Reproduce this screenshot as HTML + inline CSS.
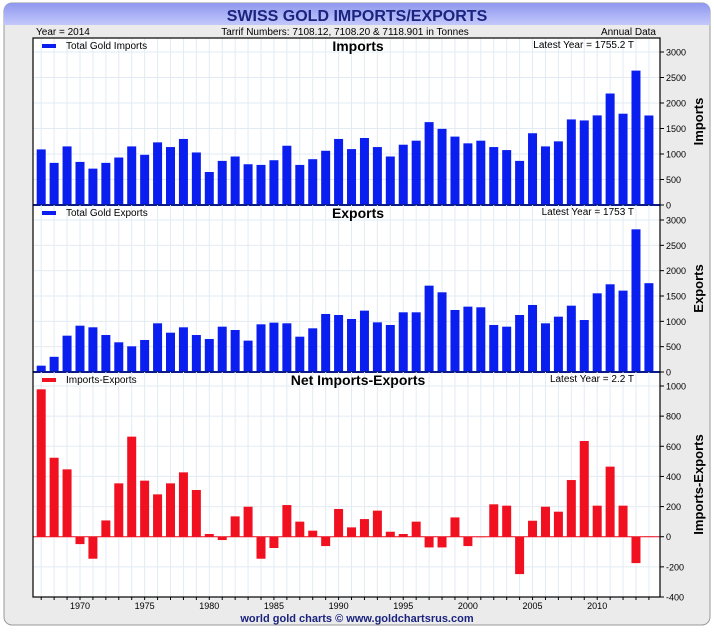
<!DOCTYPE html>
<html><head><meta charset="utf-8"><style>
html,body{margin:0;padding:0;background:#fff;}
svg{display:block;font-family:"Liberation Sans",sans-serif;}
</style></head><body>
<svg id="c" width="714" height="632" viewBox="0 0 714 632" xmlns="http://www.w3.org/2000/svg">
<defs>
<linearGradient id="tg" x1="0" y1="0" x2="0" y2="1"><stop offset="0" stop-color="#8f98ee"/><stop offset="1" stop-color="#c3c8fb"/></linearGradient>
</defs>
<rect x="4" y="3" width="706" height="622" rx="8" fill="#ebebeb" stroke="#9a9a9a"/>
<path d="M4 25 V11 Q4 3 12 3 H702 Q710 3 710 11 V25 Z" fill="url(#tg)"/>
<text x="357" y="21" text-anchor="middle" font-size="16" font-weight="bold" fill="#1a237e">SWISS GOLD IMPORTS/EXPORTS</text>
<text x="36" y="35" font-size="10" fill="#000">Year = 2014</text>
<text x="345" y="35" font-size="10" text-anchor="middle" fill="#000">Tarrif Numbers: 7108.12, 7108.20 &amp; 7118.901 in Tonnes</text>
<text x="656" y="35" font-size="10" text-anchor="end" fill="#000">Annual Data</text>
<rect x="33" y="38" width="627" height="559" fill="#fff"/>
<g id="g"></g>
<rect x="33" y="38" width="627" height="559" fill="none" stroke="#000" stroke-width="1.2"/>
<text x="357" y="622" text-anchor="middle" font-size="11" font-weight="bold" fill="#1a237e">world gold charts © www.goldchartsrus.com</text>
</svg>
<script>
const years=[1967,1968,1969,1970,1971,1972,1973,1974,1975,1976,1977,1978,1979,1980,1981,1982,1983,1984,1985,1986,1987,1988,1989,1990,1991,1992,1993,1994,1995,1996,1997,1998,1999,2000,2001,2002,2003,2004,2005,2006,2007,2008,2009,2010,2011,2012,2013,2014];
const imports=[1090,826,1149,845,713,826,931,1149,984,1228,1136,1295,1030,647,865,951,799,786,878,1162,786,898,1063,1295,1096,1314,1136,951,1182,1261,1625,1493,1341,1209,1261,1136,1077,865,1407,1149,1248,1678,1658,1757,2186,1790,2635,1755.2];
const exportsV=[125,300,717,914,882,730,586,507,632,961,776,882,730,651,895,829,619,941,974,961,697,862,1145,1125,1046,1211,980,928,1178,1178,1704,1573,1224,1290,1277,928,895,1125,1323,961,1092,1309,1026,1553,1731,1606,2816,1753];
const net=[978,524,447,-49,-146,108,354,664,372,281,354,427,310,18,-22,135,199,-146,-75,210,100,40,-62,184,62,117,173,33,18,100,-71,-71,128,-62,0,215,206,-248,106,199,166,376,635,206,465,206,-175,2.2];
const impTicks=[0,500,1000,1500,2000,2500,3000];
const expTicks=[0,500,1000,1500,2000,2500,3000];
const netTicks=[-400,-200,0,200,400,600,800,1000];
const xTicks=[1970,1975,1980,1985,1990,1995,2000,2005,2010];

const NS="http://www.w3.org/2000/svg";
const G=document.getElementById('g');
function mk(t,a,p){const e=document.createElementNS(NS,t);for(const k in a)e.setAttribute(k,a[k]);(p||G).appendChild(e);return e;}
const L=33,R=660;
const x=yr=>41.2+(yr-1967)*12.93;
const panels=[
 {name:'imports',data:imports,ticks:impTicks,top:38,bot:205,vmin:0,vmax:3000,y0v:0,y1:52,color:'#0a1ef0',legend:'Total Gold Imports',title:'Imports',latest:'Latest Year = 1755.2 T',axis:'Imports'},
 {name:'exports',data:exportsV,ticks:expTicks,top:205,bot:372,vmin:0,vmax:3000,y1:220,color:'#0a1ef0',legend:'Total Gold Exports',title:'Exports',latest:'Latest Year = 1753 T',axis:'Exports'},
 {name:'net',data:net,ticks:netTicks,top:372,bot:597,vmin:-400,vmax:1000,y1:386,color:'#f01020',legend:'Imports-Exports',title:'Net Imports-Exports',latest:'Latest Year = 2.2 T',axis:'Imports-Exports'}
];
panels.forEach(p=>{
  const yv=v=>p.bot+(v-p.vmin)*(p.y1-p.bot)/(p.vmax-p.vmin);
  // grid
  years.forEach(yr=>{const gl=mk('line',{x1:x(yr),x2:x(yr),y1:p.top,y2:p.bot,stroke:'#e2ebf3','stroke-width':1});
    
    });
  p.ticks.forEach(t=>{
    const yy=yv(t);
    const hl=mk('line',{x1:L,x2:R,y1:yy,y2:yy,stroke:'#e2ebf3'});
    
    
    const tk=mk('line',{x1:R,x2:R+4,y1:yy,y2:yy,stroke:'#000'});
    
    
    const tl=mk('text',{x:R+6,y:yy+3.5,'font-size':9,fill:'#000'});
    tl.textContent=String(t);
    
    
  });
  // bars
  const z=yv(0);
  p.data.forEach((v,i)=>{
    const yy=yv(v);
    const b=mk('rect',{x:x(years[i])-4.5,y:Math.min(yy,z),width:9,height:Math.max(Math.abs(z-yy),0.5),fill:p.color});
    
    
  });
  if(p.name==='net'){const zl=mk('line',{x1:L,x2:R,y1:z,y2:z,stroke:'#f01020','stroke-width':1});
    
    }
  // legend & titles
  const lg=mk('rect',{x:42,y:p.top+6,width:14,height:4,fill:p.color});
  
  
  const lt=mk('text',{x:66,y:p.top+11,'font-size':10,fill:'#000'});lt.textContent=p.legend;
  
  
  const tt=mk('text',{x:358,y:p.top+13,'font-size':14,'font-weight':'bold','text-anchor':'middle',fill:'#000'});tt.textContent=p.title;
  
  
  const la=mk('text',{x:634,y:p.top+10,'font-size':10,'text-anchor':'end',fill:'#000'});la.textContent=p.latest;
  
  
  const cy=(p.top+p.bot)/2;
  const at=mk('text',{x:703,y:cy,'font-size':13,'font-weight':'bold','text-anchor':'middle',fill:'#000',transform:'rotate(-90 703 '+cy+')'});at.textContent=p.axis;
  
  
  if(p.name!=='net'){const sp=mk('line',{x1:L,x2:R,y1:p.bot,y2:p.bot,stroke:'#0a1a8a','stroke-width':2});
    
    }
});
years.forEach(yr=>{const t=mk('line',{x1:x(yr),x2:x(yr),y1:597,y2:600,stroke:'#000'});
  
  });
xTicks.forEach(yr=>{const t=mk('text',{x:x(yr),y:609,'font-size':9,'text-anchor':'middle',fill:'#000'});t.textContent=String(yr);
  
  });
</script>
</body></html>
